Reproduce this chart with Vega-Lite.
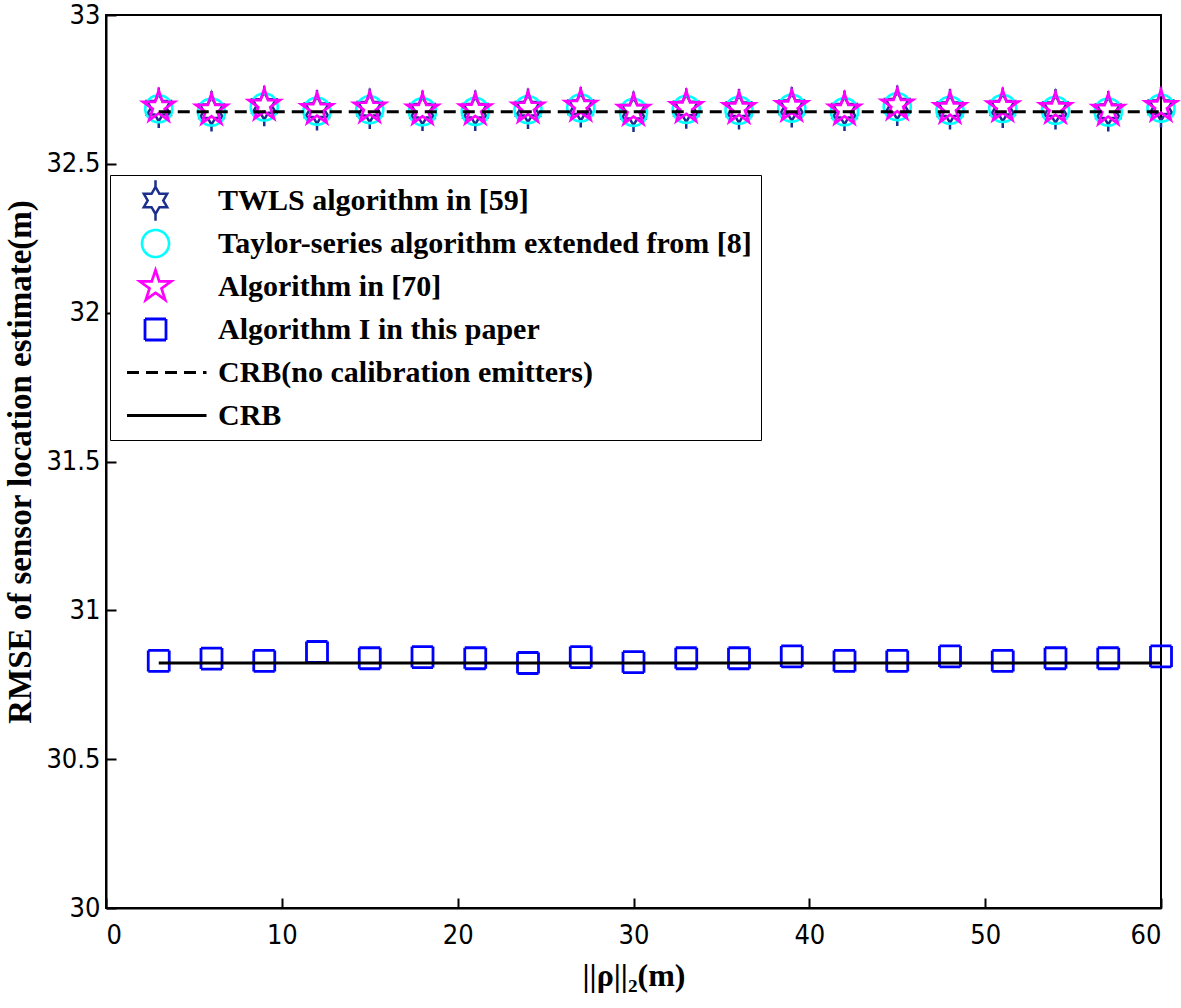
{
  "$schema": "https://vega.github.io/schema/vega-lite/v6.json",
  "width": 1055,
  "height": 893,
  "autosize": {"type": "none"},
  "padding": {"left": 106, "top": 15, "right": 20, "bottom": 100},
  "background": "white",
  "config": {
    "view": {"stroke": "black", "strokeWidth": 2},
    "axis": {
      "grid": false,
      "domainColor": "black",
      "domainWidth": 2,
      "tickColor": "black",
      "tickWidth": 2,
      "tickSize": -10,
      "labelColor": "black",
      "labelFont": "Liberation Sans Narrow, DejaVu Sans Condensed, Liberation Sans, sans-serif",
      "labelFontSize": 27,
      "titleFont": "Liberation Serif",
      "titleFontWeight": "bold",
      "titleFontSize": 32,
      "titleColor": "black"
    },
    "legend": {
      "strokeColor": "black",
      "fillColor": "white",
      "padding": 9,
      "labelFont": "Liberation Serif",
      "labelFontWeight": "bold",
      "labelFontSize": 30,
      "labelColor": "black",
      "labelLimit": 900,
      "symbolSize": 900,
      "rowPadding": -5,
      "gridAlign": "all",
      "labelOffset": 46,
      "symbolOffset": 20
    }
  },
  "data": {
    "values": [
      {"x": 3, "y": 32.688, "series": "TWLS algorithm in [59]"},
      {"x": 6, "y": 32.677, "series": "TWLS algorithm in [59]"},
      {"x": 9, "y": 32.694, "series": "TWLS algorithm in [59]"},
      {"x": 12, "y": 32.680, "series": "TWLS algorithm in [59]"},
      {"x": 15, "y": 32.685, "series": "TWLS algorithm in [59]"},
      {"x": 18, "y": 32.678, "series": "TWLS algorithm in [59]"},
      {"x": 21, "y": 32.678, "series": "TWLS algorithm in [59]"},
      {"x": 24, "y": 32.685, "series": "TWLS algorithm in [59]"},
      {"x": 27, "y": 32.690, "series": "TWLS algorithm in [59]"},
      {"x": 30, "y": 32.675, "series": "TWLS algorithm in [59]"},
      {"x": 33, "y": 32.686, "series": "TWLS algorithm in [59]"},
      {"x": 36, "y": 32.683, "series": "TWLS algorithm in [59]"},
      {"x": 39, "y": 32.690, "series": "TWLS algorithm in [59]"},
      {"x": 42, "y": 32.678, "series": "TWLS algorithm in [59]"},
      {"x": 45, "y": 32.695, "series": "TWLS algorithm in [59]"},
      {"x": 48, "y": 32.683, "series": "TWLS algorithm in [59]"},
      {"x": 51, "y": 32.688, "series": "TWLS algorithm in [59]"},
      {"x": 54, "y": 32.683, "series": "TWLS algorithm in [59]"},
      {"x": 57, "y": 32.677, "series": "TWLS algorithm in [59]"},
      {"x": 60, "y": 32.690, "series": "TWLS algorithm in [59]"},
      {"x": 3, "y": 32.685, "series": "Taylor-series algorithm extended from [8]"},
      {"x": 6, "y": 32.674, "series": "Taylor-series algorithm extended from [8]"},
      {"x": 9, "y": 32.691, "series": "Taylor-series algorithm extended from [8]"},
      {"x": 12, "y": 32.677, "series": "Taylor-series algorithm extended from [8]"},
      {"x": 15, "y": 32.682, "series": "Taylor-series algorithm extended from [8]"},
      {"x": 18, "y": 32.675, "series": "Taylor-series algorithm extended from [8]"},
      {"x": 21, "y": 32.676, "series": "Taylor-series algorithm extended from [8]"},
      {"x": 24, "y": 32.682, "series": "Taylor-series algorithm extended from [8]"},
      {"x": 27, "y": 32.688, "series": "Taylor-series algorithm extended from [8]"},
      {"x": 30, "y": 32.673, "series": "Taylor-series algorithm extended from [8]"},
      {"x": 33, "y": 32.683, "series": "Taylor-series algorithm extended from [8]"},
      {"x": 36, "y": 32.680, "series": "Taylor-series algorithm extended from [8]"},
      {"x": 39, "y": 32.687, "series": "Taylor-series algorithm extended from [8]"},
      {"x": 42, "y": 32.675, "series": "Taylor-series algorithm extended from [8]"},
      {"x": 45, "y": 32.692, "series": "Taylor-series algorithm extended from [8]"},
      {"x": 48, "y": 32.680, "series": "Taylor-series algorithm extended from [8]"},
      {"x": 51, "y": 32.686, "series": "Taylor-series algorithm extended from [8]"},
      {"x": 54, "y": 32.680, "series": "Taylor-series algorithm extended from [8]"},
      {"x": 57, "y": 32.674, "series": "Taylor-series algorithm extended from [8]"},
      {"x": 60, "y": 32.687, "series": "Taylor-series algorithm extended from [8]"},
      {"x": 3, "y": 32.691, "series": "Algorithm in [70]"},
      {"x": 6, "y": 32.681, "series": "Algorithm in [70]"},
      {"x": 9, "y": 32.697, "series": "Algorithm in [70]"},
      {"x": 12, "y": 32.683, "series": "Algorithm in [70]"},
      {"x": 15, "y": 32.688, "series": "Algorithm in [70]"},
      {"x": 18, "y": 32.681, "series": "Algorithm in [70]"},
      {"x": 21, "y": 32.682, "series": "Algorithm in [70]"},
      {"x": 24, "y": 32.688, "series": "Algorithm in [70]"},
      {"x": 27, "y": 32.694, "series": "Algorithm in [70]"},
      {"x": 30, "y": 32.680, "series": "Algorithm in [70]"},
      {"x": 33, "y": 32.689, "series": "Algorithm in [70]"},
      {"x": 36, "y": 32.686, "series": "Algorithm in [70]"},
      {"x": 39, "y": 32.693, "series": "Algorithm in [70]"},
      {"x": 42, "y": 32.681, "series": "Algorithm in [70]"},
      {"x": 45, "y": 32.698, "series": "Algorithm in [70]"},
      {"x": 48, "y": 32.686, "series": "Algorithm in [70]"},
      {"x": 51, "y": 32.692, "series": "Algorithm in [70]"},
      {"x": 54, "y": 32.686, "series": "Algorithm in [70]"},
      {"x": 57, "y": 32.680, "series": "Algorithm in [70]"},
      {"x": 60, "y": 32.693, "series": "Algorithm in [70]"},
      {"x": 3, "y": 30.830, "series": "Algorithm I in this paper"},
      {"x": 6, "y": 30.838, "series": "Algorithm I in this paper"},
      {"x": 9, "y": 30.830, "series": "Algorithm I in this paper"},
      {"x": 12, "y": 30.860, "series": "Algorithm I in this paper"},
      {"x": 15, "y": 30.839, "series": "Algorithm I in this paper"},
      {"x": 18, "y": 30.843, "series": "Algorithm I in this paper"},
      {"x": 21, "y": 30.839, "series": "Algorithm I in this paper"},
      {"x": 24, "y": 30.823, "series": "Algorithm I in this paper"},
      {"x": 27, "y": 30.843, "series": "Algorithm I in this paper"},
      {"x": 30, "y": 30.826, "series": "Algorithm I in this paper"},
      {"x": 33, "y": 30.839, "series": "Algorithm I in this paper"},
      {"x": 36, "y": 30.839, "series": "Algorithm I in this paper"},
      {"x": 39, "y": 30.845, "series": "Algorithm I in this paper"},
      {"x": 42, "y": 30.830, "series": "Algorithm I in this paper"},
      {"x": 45, "y": 30.830, "series": "Algorithm I in this paper"},
      {"x": 48, "y": 30.845, "series": "Algorithm I in this paper"},
      {"x": 51, "y": 30.830, "series": "Algorithm I in this paper"},
      {"x": 54, "y": 30.839, "series": "Algorithm I in this paper"},
      {"x": 57, "y": 30.839, "series": "Algorithm I in this paper"},
      {"x": 60, "y": 30.845, "series": "Algorithm I in this paper"},
      {"x": 3, "y": 32.675, "series": "CRB(no calibration emitters)"},
      {"x": 6, "y": 32.675, "series": "CRB(no calibration emitters)"},
      {"x": 9, "y": 32.675, "series": "CRB(no calibration emitters)"},
      {"x": 12, "y": 32.675, "series": "CRB(no calibration emitters)"},
      {"x": 15, "y": 32.675, "series": "CRB(no calibration emitters)"},
      {"x": 18, "y": 32.675, "series": "CRB(no calibration emitters)"},
      {"x": 21, "y": 32.675, "series": "CRB(no calibration emitters)"},
      {"x": 24, "y": 32.675, "series": "CRB(no calibration emitters)"},
      {"x": 27, "y": 32.675, "series": "CRB(no calibration emitters)"},
      {"x": 30, "y": 32.675, "series": "CRB(no calibration emitters)"},
      {"x": 33, "y": 32.675, "series": "CRB(no calibration emitters)"},
      {"x": 36, "y": 32.675, "series": "CRB(no calibration emitters)"},
      {"x": 39, "y": 32.675, "series": "CRB(no calibration emitters)"},
      {"x": 42, "y": 32.675, "series": "CRB(no calibration emitters)"},
      {"x": 45, "y": 32.675, "series": "CRB(no calibration emitters)"},
      {"x": 48, "y": 32.675, "series": "CRB(no calibration emitters)"},
      {"x": 51, "y": 32.675, "series": "CRB(no calibration emitters)"},
      {"x": 54, "y": 32.675, "series": "CRB(no calibration emitters)"},
      {"x": 57, "y": 32.675, "series": "CRB(no calibration emitters)"},
      {"x": 60, "y": 32.675, "series": "CRB(no calibration emitters)"},
      {"x": 3, "y": 30.823, "series": "CRB"},
      {"x": 6, "y": 30.823, "series": "CRB"},
      {"x": 9, "y": 30.823, "series": "CRB"},
      {"x": 12, "y": 30.823, "series": "CRB"},
      {"x": 15, "y": 30.823, "series": "CRB"},
      {"x": 18, "y": 30.823, "series": "CRB"},
      {"x": 21, "y": 30.823, "series": "CRB"},
      {"x": 24, "y": 30.823, "series": "CRB"},
      {"x": 27, "y": 30.823, "series": "CRB"},
      {"x": 30, "y": 30.823, "series": "CRB"},
      {"x": 33, "y": 30.823, "series": "CRB"},
      {"x": 36, "y": 30.823, "series": "CRB"},
      {"x": 39, "y": 30.823, "series": "CRB"},
      {"x": 42, "y": 30.823, "series": "CRB"},
      {"x": 45, "y": 30.823, "series": "CRB"},
      {"x": 48, "y": 30.823, "series": "CRB"},
      {"x": 51, "y": 30.823, "series": "CRB"},
      {"x": 54, "y": 30.823, "series": "CRB"},
      {"x": 57, "y": 30.823, "series": "CRB"},
      {"x": 60, "y": 30.823, "series": "CRB"}
    ]
  },
  "encoding": {
    "x": {
      "field": "x", "type": "quantitative",
      "scale": {"domain": [0, 60], "nice": false, "zero": false},
      "axis": {"values": [0, 10, 20, 30, 40, 50, 60], "title": "||ρ||₂(m)", "labelPadding": 24, "titlePadding": 12}
    },
    "y": {
      "field": "y", "type": "quantitative",
      "scale": {"domain": [30, 33], "nice": false, "zero": false},
      "axis": {"values": [30, 30.5, 31, 31.5, 32, 32.5, 33], "format": "~g", "title": "RMSE of sensor location estimate(m)", "titleFontSize": 33, "labelPadding": 16, "titlePadding": 8}
    },
    "color": {
      "field": "series", "type": "nominal",
      "scale": {
        "domain": ["TWLS algorithm in [59]", "Taylor-series algorithm extended from [8]", "Algorithm in [70]", "Algorithm I in this paper", "CRB(no calibration emitters)", "CRB"],
        "range": ["#1c2f8c", "#00ffff", "#ff00ff", "#0000ff", "#000000", "#000000"]
      },
      "legend": {"title": null, "orient": "none", "legendX": 4, "legendY": 160}
    },
    "strokeDash": {
      "field": "series", "type": "nominal",
      "scale": {
        "domain": ["TWLS algorithm in [59]", "Taylor-series algorithm extended from [8]", "Algorithm in [70]", "Algorithm I in this paper", "CRB(no calibration emitters)", "CRB"],
        "range": [[1, 0], [1, 0], [1, 0], [1, 0], [12, 7], [1, 0]]
      },
      "legend": {"title": null, "orient": "none", "legendX": 4, "legendY": 160}
    },
    "strokeWidth": {
      "field": "series", "type": "nominal",
      "scale": {
        "domain": ["TWLS algorithm in [59]", "Taylor-series algorithm extended from [8]", "Algorithm in [70]", "Algorithm I in this paper", "CRB(no calibration emitters)", "CRB"],
        "range": [2.5, 3, 4.5, 3.5, 4, 4]
      },
      "legend": {"title": null, "orient": "none", "legendX": 4, "legendY": 160}
    }
  },
  "layer": [
    {
      "transform": [{"filter": "indexof(['CRB', 'CRB(no calibration emitters)'], datum.series) < 0"}],
      "mark": {"type": "point", "filled": false, "size": 900, "opacity": 1},
      "encoding": {
        "shape": {
          "field": "series", "type": "nominal",
          "scale": {
            "domain": ["TWLS algorithm in [59]", "Taylor-series algorithm extended from [8]", "Algorithm in [70]", "Algorithm I in this paper", "CRB(no calibration emitters)", "CRB"],
            "range": [
              "M0,-0.9L0.26,-0.45L0.78,-0.45L0.52,0L0.78,0.45L0.26,0.45L0,0.9L-0.26,0.45L-0.78,0.45L-0.52,0L-0.78,-0.45L-0.26,-0.45Z M0,-0.9L0,-1.35 M0,0.9L0,1.35",
              "M0.9,0A0.9,0.9,0,1,1,-0.9,0A0.9,0.9,0,1,1,0.9,0Z",
              "M0,-1.1L0.248,-0.34L1.046,-0.34L0.399,0.13L0.647,0.89L0,0.42L-0.647,0.89L-0.399,0.13L-1.046,-0.34L-0.248,-0.34Z",
              "M-0.7,-0.7L0.7,-0.7L0.7,0.7L-0.7,0.7Z",
              "M-1.9,0L3.4,0",
              "M-1.9,0L3.4,0"
            ]
          },
          "legend": {"title": null, "orient": "none", "legendX": 4, "legendY": 160}
        }
      }
    },
    {
      "transform": [{"filter": "indexof(['CRB', 'CRB(no calibration emitters)'], datum.series) >= 0"}],
      "mark": {"type": "line"},
      "encoding": {
        "detail": {"field": "series", "type": "nominal"}
      }
    }
  ]
}
